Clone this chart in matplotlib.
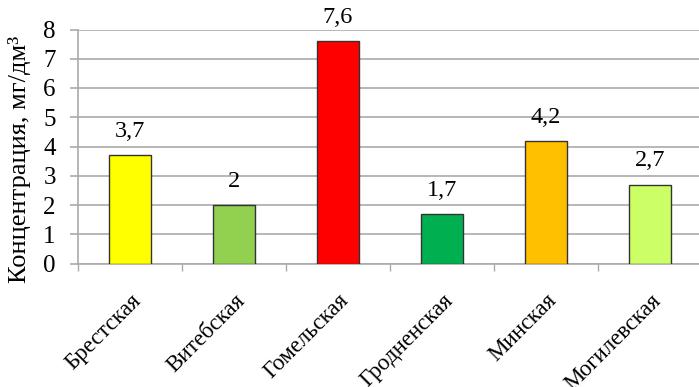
import matplotlib
matplotlib.use("Agg")
import matplotlib.pyplot as plt

categories = ["Брестская", "Витебская", "Гомельская", "Гродненская", "Минская", "Могилевская"]
values = [3.7, 2, 7.6, 1.7, 4.2, 2.7]
labels = ["3,7", "2", "7,6", "1,7", "4,2", "2,7"]
colors = ["#FFFF00", "#92D050", "#FF0000", "#00B050", "#FFC000", "#CCFF66"]

plt.rcParams['font.family'] = ['Liberation Serif', 'DejaVu Serif']

W, H = 699, 387
fig = plt.figure(figsize=(W / 100, H / 100), dpi=100)
ax = fig.add_axes([78 / W, 1 - 263.5 / H, 624 / W, 234 / H])

x = list(range(len(categories)))
ax.bar(x, values, width=0.40, color=colors, edgecolor="#333333", linewidth=1.0, zorder=3)
for xi, v, l in zip(x, values, labels):
    ax.annotate(l, (xi, v), xytext=(0, 13), textcoords="offset points",
                ha="center", va="baseline", fontsize=17.5)

ax.set_xlim(-0.5, len(categories) - 0.5)
ax.set_ylim(0, 8)
ax.set_yticks(range(0, 9))
ax.yaxis.grid(True, color="#AAAAAA", linewidth=1.2, zorder=0)
ax.tick_params(axis='y', labelsize=18, length=6, width=1.2, color="#AAAAAA", pad=10)
ax.set_xticks([i - 0.5 for i in range(len(categories) + 1)])
ax.set_xticklabels([])
ax.tick_params(axis='x', which='major', length=5, width=1.0, color="#AAAAAA", direction='out')
ax.set_xticks(x, minor=True)
ax.set_xticklabels(categories, minor=True, rotation=45, ha="right", va="top",
                   rotation_mode="anchor", fontsize=16.5)
ax.tick_params(axis='x', which='minor', length=0, pad=19)

for s in ["top", "right"]:
    ax.spines[s].set_visible(False)
ax.spines["left"].set_color("#AAAAAA")
ax.spines["left"].set_linewidth(1.2)
ax.spines["bottom"].set_color("#AAAAAA")
ax.spines["bottom"].set_linewidth(1.2)

fig.text(20 / W, 1 - 159 / H, "Концентрация, мг/дм³", rotation=90,
         ha="center", va="center", fontsize=19)

fig.savefig("out.png", dpi=100)
